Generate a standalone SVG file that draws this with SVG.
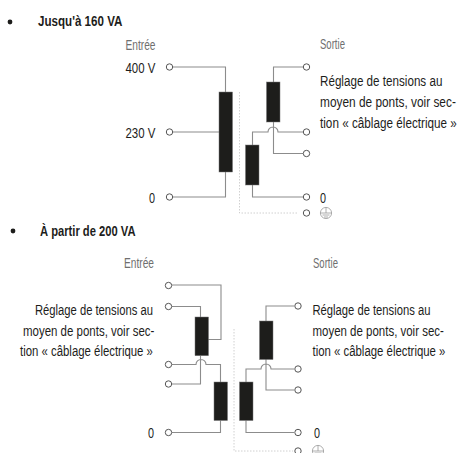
<svg xmlns="http://www.w3.org/2000/svg" width="459" height="453" viewBox="0 0 459 453">
<style>
text{font-family:"Liberation Sans",Arial,sans-serif;font-size:15.5px;fill:#1d1d1b}
.b{font-weight:bold;font-size:14.5px}
.l{fill:#6f6f6f}
.w{fill:none;stroke:#8c8c8c;stroke-width:1.1}
.d{fill:none;stroke:#c4c4c4;stroke-width:.8;stroke-dasharray:1.5 1.5}
.c{fill:#fff;stroke:#555;stroke-width:1}
.r{fill:#1d1d1b;stroke:#777;stroke-width:.5}
</style>
<defs><circle id="t" class="c" r="3.2"/>
<g id="g" fill="none" stroke="#9a9a9a" stroke-width=".8"><circle r="5.6"/><path d="M-5.6 0H5.6M0-5.6V0M-3.5 2H3.5M-2 4H2"/></g></defs>
<circle cx="10" cy="22" r="2.4" fill="#1d1d1b"/>
<circle cx="13" cy="231" r="2.4" fill="#1d1d1b"/>
<text class="b" transform="translate(38 26) scale(.8 1)">Jusqu'à 160 VA</text>
<text class="b" transform="translate(40 236) scale(.772 1)">À partir de 200 VA</text>
<g id="connectors">
<path class="w" d="M173 67H225.5V92M173 132H226M173 197H225.5V172"/>
<path class="w" d="M303 67H273.5V82M252.5 145V132H268A5 5 0 0 1 278 132H303M273.5 122V153.5H303M252.5 185V197H303"/>
<path class="d" d="M239.5 92V213H297"/>
<path class="w" d="M172 285H221V339.5H208M172 306.5H200.5V317M172 364.5H196A5 5 0 0 1 206 364.5H220.5V382M172 384H200.5V355.7M172 432.5H220.5V420.5"/>
<path class="w" d="M294 306H266V321M246 382V369H261A5 5 0 0 1 271 369H294M266 359V390H294M246 420.5V432.5H294"/>
<path class="d" d="M234 329V451H293"/>
</g>
<g id="node-top"><rect class="r" x="219" y="92" width="13.5" height="80"/>
<rect class="r" x="266.5" y="82" width="13.5" height="40"/>
<rect class="r" x="245.5" y="145" width="13.5" height="40"/>
<use href="#t" x="169.5" y="67"/><use href="#t" x="169.5" y="132"/><use href="#t" x="169.5" y="197"/>
<use href="#t" x="306.5" y="67"/><use href="#t" x="306.5" y="132"/><use href="#t" x="306.5" y="153.5"/><use href="#t" x="306.5" y="197"/><use href="#t" x="306.5" y="213"/>
<use href="#g" x="326" y="213"/></g>
<g id="node-bottom"><rect class="r" x="195" y="317" width="13.5" height="38.7"/>
<rect class="r" x="214" y="382" width="13.5" height="38.5"/>
<rect class="r" x="259.5" y="321" width="13.5" height="38.5"/>
<rect class="r" x="239.5" y="382" width="13.5" height="38.5"/>
<use href="#t" x="168.5" y="285.5"/><use href="#t" x="168.5" y="306.5"/><use href="#t" x="168.5" y="364.5"/><use href="#t" x="168.5" y="384"/><use href="#t" x="168.5" y="432.5"/>
<use href="#t" x="298" y="306"/><use href="#t" x="298" y="369"/><use href="#t" x="298" y="390"/><use href="#t" x="298" y="432.5"/><use href="#t" x="298" y="451"/>
<use href="#g" x="318" y="451"/></g>
<g id="labels">
<text class="l" transform="translate(125.5 50) scale(.657 1)">Entrée</text>
<text class="l" transform="translate(320 49) scale(.617 1)">Sortie</text>
<text transform="translate(125.5 73) scale(.74 1)">400 V</text>
<text transform="translate(125.5 138) scale(.74 1)">230 V</text>
<text transform="translate(149 203) scale(.7 1)">0</text>
<text transform="translate(320 85.5) scale(.752 1)">Réglage de tensions au</text>
<text transform="translate(320 107) scale(.766 1)">moyen de ponts, voir sec-</text>
<text transform="translate(320 127.5) scale(.757 1)">tion « câblage électrique »</text>
<text transform="translate(320 203) scale(.7 1)">0</text>
<text class="l" transform="translate(124 268) scale(.657 1)">Entrée</text>
<text class="l" transform="translate(313 268) scale(.617 1)">Sortie</text>
<text transform="translate(35 315) scale(.725 1)">Réglage de tensions au</text>
<text transform="translate(23 335.5) scale(.741 1)">moyen de ponts, voir sec-</text>
<text transform="translate(20 355.5) scale(.735 1)">tion « câblage électrique »</text>
<text transform="translate(312.5 315) scale(.725 1)">Réglage de tensions au</text>
<text transform="translate(312.5 335.5) scale(.741 1)">moyen de ponts, voir sec-</text>
<text transform="translate(312.5 355.5) scale(.735 1)">tion « câblage électrique »</text>
<text transform="translate(148 438) scale(.7 1)">0</text>
<text transform="translate(314 438) scale(.7 1)">0</text>
</g>
</svg>
